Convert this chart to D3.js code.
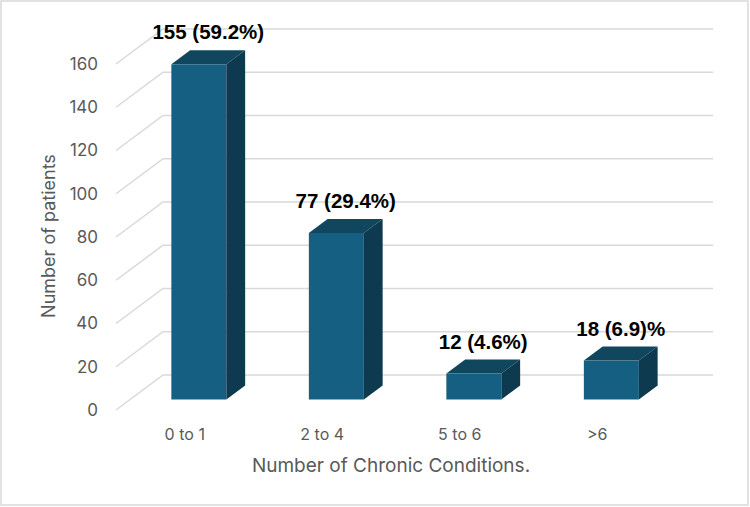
<!DOCTYPE html>
<html>
<head>
<meta charset="utf-8">
<script src="https://cdn.jsdelivr.net/npm/d3@7"></script>
<style>
  body { margin: 0; background: #fff; }
  svg { font-family: "Inter", "Noto Sans", sans-serif; }
</style>
</head>
<body>
<script>
// chart data
var categories = ["0 to 1", "2 to 4", "5 to 6", ">6"];
var patients = [155, 77, 12, 18];
var labels = ["155 (59.2%)", "77 (29.4%)", "12 (4.6%)", "18 (6.9)%"];
var yTicks = [0, 20, 40, 60, 80, 100, 120, 140, 160];

var w = 750, h = 507;
var svg = d3.select("body").append("svg")
    .attr("width", w)
    .attr("height", h);

// outer border
svg.append("rect")
    .attr("x", 1).attr("y", 1)
    .attr("width", w - 3).attr("height", h - 3)
    .attr("fill", "#fff")
    .attr("stroke", "#d9d9d9")
    .attr("stroke-width", 1.5);

// 3D depth of the floor (front edge -> back wall)
var depthX = 47, depthY = -35;
var barFront = 0.3, barBack = 0.7;

var x = d3.scaleBand()
    .domain(categories)
    .range([116, 666])
    .paddingInner(0.6)
    .paddingOuter(0.3);

var y = d3.scaleLinear()
    .domain([0, 160])
    .range([410, 64]);

// gridlines: slanted side wall segment + back wall line
var grid = svg.append("g");
yTicks.forEach(function(t) {
    grid.append("path")
        .attr("d", "M" + x.range()[0] + "," + y(t) +
                   "L" + (x.range()[0] + depthX) + "," + (y(t) + depthY) +
                   "L" + (x.range()[1] + depthX) + "," + (y(t) + depthY))
        .attr("fill", "none")
        .attr("stroke", "#d9d9d9")
        .attr("stroke-width", 1.5);
});

// y tick labels
svg.append("g").selectAll("text")
    .data(yTicks)
    .enter()
    .append("text")
    .attr("x", 98)
    .attr("y", function(d) { return y(d); })
    .attr("dy", "0.35em")
    .attr("text-anchor", "end")
    .attr("font-size", 17)
    .attr("fill", "#595959")
    .text(function(d) { return d; });

// bars
var fx = barFront * depthX, fy = barFront * depthY;
var bx = (barBack - barFront) * depthX, by = (barBack - barFront) * depthY;

var bars = svg.append("g").selectAll("g")
    .data(patients)
    .enter()
    .append("g");

// front face
bars.append("rect")
    .attr("x", function(d, i) { return x(categories[i]) + fx; })
    .attr("y", function(d) { return y(d) + fy; })
    .attr("width", x.bandwidth())
    .attr("height", function(d) { return y(0) - y(d); })
    .attr("fill", "#156082");

// top face
bars.append("path")
    .attr("d", function(d, i) {
        var x0 = x(categories[i]) + fx, y0 = y(d) + fy, bw = x.bandwidth();
        return "M" + x0 + "," + y0 + "L" + (x0 + bx) + "," + (y0 + by) +
               "L" + (x0 + bw + bx) + "," + (y0 + by) + "L" + (x0 + bw) + "," + y0 + "Z";
    })
    .attr("fill", "#10475f");

// side face
bars.append("path")
    .attr("d", function(d, i) {
        var x0 = x(categories[i]) + fx + x.bandwidth(), y0 = y(d) + fy, y1 = y(0) + fy;
        return "M" + x0 + "," + y0 + "L" + (x0 + bx) + "," + (y0 + by) +
               "L" + (x0 + bx) + "," + (y1 + by) + "L" + x0 + "," + y1 + "Z";
    })
    .attr("fill", "#0d3a4e");

// data labels
svg.append("g").selectAll("text")
    .data(patients)
    .enter()
    .append("text")
    .attr("x", function(d, i) { return x(categories[i]) + x.bandwidth() / 2 + 0.5 * depthX; })
    .attr("y", function(d) { return y(d) + barBack * depthY - 11; })
    .attr("text-anchor", "middle")
    .attr("font-family", "'Liberation Sans', Arial, sans-serif")
    .attr("font-size", 20.5)
    .attr("font-weight", "bold")
    .attr("fill", "#000")
    .text(function(d, i) { return labels[i]; });

// category labels
svg.append("g").selectAll("text")
    .data(categories)
    .enter()
    .append("text")
    .attr("x", function(d) { return x(d) + x.bandwidth() / 2; })
    .attr("y", 440)
    .attr("text-anchor", "middle")
    .attr("font-size", 16)
    .attr("fill", "#595959")
    .text(function(d) { return d; });

// axis titles
svg.append("text")
    .attr("x", 391)
    .attr("y", 472)
    .attr("text-anchor", "middle")
    .attr("font-size", 19)
    .attr("fill", "#595959")
    .text("Number of Chronic Conditions.");

svg.append("text")
    .attr("transform", "translate(55,236) rotate(-90)")
    .attr("text-anchor", "middle")
    .attr("font-size", 18)
    .attr("fill", "#595959")
    .text("Number of patients");
</script>
</body>
</html>
